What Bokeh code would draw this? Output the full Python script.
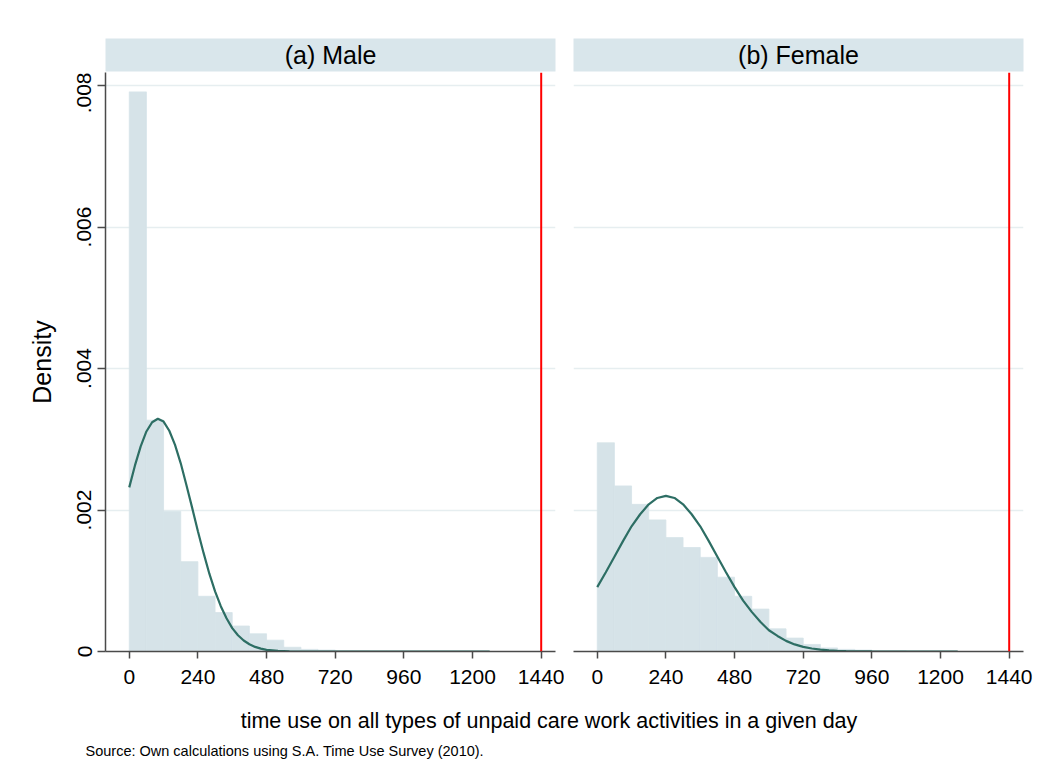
from bokeh.plotting import figure
from bokeh.layouts import column, row
from bokeh.models import FixedTicker, CustomJSTickFormatter, Span, Range1d
from bokeh.core.properties import value
from bokeh.embed import file_html
from bokeh.resources import INLINE

# ---------------- data ----------------
bin_width = 60
bin_starts = [0, 60, 120, 180, 240, 300, 360, 420, 480, 540, 600,
              660, 720, 780, 840, 900, 960, 1020, 1080, 1140, 1200]
male_density = [0.00791, 0.00327, 0.00198, 0.00127, 0.00078, 0.00055, 0.00036,
                0.00025, 0.00016, 0.00006, 0.00003, 0.00002, 0.00001, 0.00001,
                0.000005, 0.000005, 0.000003, 0.000003, 0.000002, 0.000002, 0.000002]
female_density = [0.00295, 0.00234, 0.00208, 0.00186, 0.00161, 0.00147, 0.00133,
                  0.00105, 0.00078, 0.00060, 0.00032, 0.00019, 0.00010, 0.00005,
                  0.00003, 0.00002, 0.00001, 0.00001, 0.000005, 0.000005, 0.000003]

male_curve_x = [0, 20, 40, 60, 80, 100, 120, 140, 160, 180, 200, 220, 240, 260,
                280, 300, 320, 340, 360, 380, 400, 420, 440, 460, 480, 520, 560,
                600, 700, 800, 900, 1000, 1100, 1200, 1260]
male_curve_y = [0.00232, 0.00263, 0.00290, 0.00311, 0.00324, 0.00329, 0.00325,
                0.00312, 0.00292, 0.00266, 0.00235, 0.00203, 0.00170, 0.00139,
                0.00110, 0.00085, 0.00064, 0.00047, 0.00033, 0.00023, 0.000155,
                0.000102, 0.000065, 0.000040, 0.000024, 0.000008, 0.000002,
                0.0, 0.0, 0.0, 0.0, 0.0, 0.0, 0.0, 0.0]

female_curve_x = [0, 30, 60, 90, 120, 150, 180, 210, 240, 270, 300, 330, 360, 390,
                  420, 450, 480, 510, 540, 570, 600, 630, 660, 690, 720, 750, 780,
                  810, 840, 870, 900, 960, 1020, 1080, 1140, 1200, 1260]
female_curve_y = [0.00091, 0.00112, 0.00134, 0.00156, 0.00177, 0.00194, 0.00208,
                  0.00217, 0.00220, 0.00217, 0.00208, 0.00194, 0.00177, 0.00156,
                  0.00134, 0.00112, 0.00091, 0.00072, 0.00056, 0.00042, 0.00030,
                  0.00022, 0.00015, 0.00010, 0.000065, 0.000042, 0.000026,
                  0.000015, 0.000009, 0.000005, 0.000003, 0.000001, 0.0, 0.0,
                  0.0, 0.0, 0.0]

x_ticks = [0, 240, 480, 720, 960, 1200, 1440]
y_ticks = [0, 0.002, 0.004, 0.006, 0.008]
panel_titles = ["(a) Male", "(b) Female"]
x_title = "time use on all types of unpaid care work activities in a given day"
y_title = "Density"
source_note = "Source: Own calculations using S.A. Time Use Survey (2010)."
day_limit = 1440

# ---------------- style ----------------
FONT = "Liberation Sans"
BAR = "#d6e3e8"
STRIP = "#d9e6eb"
GRID = "#e6eef0"
CURVE = "#2d6e64"
AXIS = "#4a4a4a"

X_RANGE = (-83, 1490)
Y_RANGE = (0, 0.008184)


def make_strip(title, width, left, right):
    s = figure(width=width, height=72, x_range=Range1d(0, 1), y_range=Range1d(0, 1),
               output_backend="svg", toolbar_location=None,
               x_axis_location=None, y_axis_location=None,
               min_border_left=left, min_border_right=right,
               min_border_top=38, min_border_bottom=1)
    s.grid.visible = False
    s.outline_line_color = None
    s.background_fill_color = STRIP
    s.border_fill_color = "white"
    s.text(x=[0.5], y=[0.5], text=[title], text_align="center",
           text_baseline="middle", text_font=value(FONT),
           text_font_size="25px", text_color="black")
    return s


def make_panel(density, cx, cy, width, left, right, show_y):
    p = figure(width=width, height=623,
               x_range=Range1d(*X_RANGE), y_range=Range1d(*Y_RANGE),
               output_backend="svg", toolbar_location=None,
               y_axis_location="left" if show_y else None,
               min_border_left=left, min_border_right=right,
               min_border_top=0, min_border_bottom=44)
    p.outline_line_color = None
    p.background_fill_color = "white"
    p.border_fill_color = "white"

    p.xgrid.visible = False
    p.ygrid.ticker = FixedTicker(ticks=y_ticks)
    p.ygrid.grid_line_color = GRID
    p.ygrid.grid_line_width = 1.5

    p.quad(left=bin_starts, right=[b + bin_width for b in bin_starts],
           top=density, bottom=0, fill_color=BAR, line_color=BAR, line_width=0.8)
    p.line(cx, cy, line_color=CURVE, line_width=2.2)
    p.add_layout(Span(location=day_limit, dimension="height",
                      line_color="#ff0000", line_width=2))

    xa = p.xaxis[0]
    xa.ticker = FixedTicker(ticks=x_ticks)
    xa.minor_tick_line_color = None
    xa.major_tick_out = 7
    xa.major_tick_in = 0
    xa.axis_line_color = AXIS
    xa.axis_line_width = 1.5
    xa.major_tick_line_color = AXIS
    xa.major_tick_line_width = 1.5
    xa.major_label_text_font = FONT
    xa.major_label_text_font_size = "21px"
    xa.major_label_text_color = "black"
    xa.major_label_standoff = 11

    if show_y:
        ya = p.yaxis[0]
        ya.ticker = FixedTicker(ticks=y_ticks)
        ya.formatter = CustomJSTickFormatter(
            code="return tick == 0 ? '0' : tick.toFixed(3).replace(/^0/, '');")
        ya.minor_tick_line_color = None
        ya.major_tick_out = 8
        ya.major_tick_in = 0
        ya.axis_line_color = AXIS
        ya.axis_line_width = 1.5
        ya.major_tick_line_color = AXIS
        ya.major_tick_line_width = 1.5
        ya.major_label_orientation = "vertical"
        ya.major_label_text_font = FONT
        ya.major_label_text_font_size = "21px"
        ya.major_label_text_color = "black"
        ya.major_label_standoff = 6
        ya.axis_label = y_title
        ya.axis_label_text_font = FONT
        ya.axis_label_text_font_size = "25px"
        ya.axis_label_text_font_style = "normal"
        ya.axis_label_text_color = "black"
        ya.axis_label_standoff = 19
    return p


strip_m = make_strip(panel_titles[0], 564, 105, 9)
strip_f = make_strip(panel_titles[1], 478, 9, 19)
p_m = make_panel(male_density, male_curve_x, male_curve_y, 564, 105, 9, True)
p_f = make_panel(female_density, female_curve_x, female_curve_y, 478, 9, 19, False)

bottom = figure(width=1042, height=67, x_range=Range1d(0, 1042), y_range=Range1d(67, 0),
                output_backend="svg", toolbar_location=None,
                x_axis_location=None, y_axis_location=None,
                min_border_left=0, min_border_right=0, min_border_top=0,
                min_border_bottom=0)
bottom.grid.visible = False
bottom.outline_line_color = None
bottom.text(x=[548.5], y=[25], text=[x_title], text_align="center",
            text_baseline="middle", text_font=value(FONT),
            text_font_size="21.5px", text_color="black")
bottom.text(x=[85], y=[55], text=[source_note], text_align="left",
            text_baseline="middle", text_font=value(FONT),
            text_font_size="14.5px", text_color="black")

layout = column(row(strip_m, strip_f), row(p_m, p_f), bottom)

open("out.html", "w").write(file_html(layout, INLINE))
